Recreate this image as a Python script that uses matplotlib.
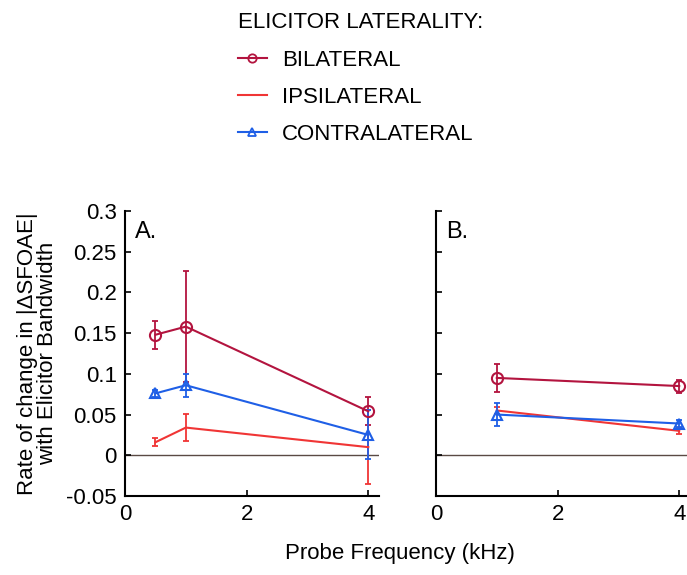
import matplotlib
matplotlib.use("Agg")
import matplotlib.pyplot as plt

plt.rcParams["font.family"] = ["Liberation Sans", "DejaVu Sans"]
plt.rcParams["font.size"] = 16

# probe frequencies (kHz) and rate-of-change values, panel A
freq_a = [0.5, 1.0, 4.0]
bilat_a = [0.148, 0.158, 0.054]
bilat_a_err = [0.017, 0.068, 0.017]
ipsi_a = [0.016, 0.034, 0.010]
ipsi_a_err = [0.005, 0.017, 0.045]
contra_a = [0.076, 0.086, 0.025]
contra_a_err = [0.004, 0.014, 0.030]

# panel B
freq_b = [1.0, 4.0]
bilat_b = [0.095, 0.085]
bilat_b_err = [0.017, 0.008]
ipsi_b = [0.055, 0.030]
ipsi_b_err = [0.004, 0.004]
contra_b = [0.050, 0.039]
contra_b_err = [0.014, 0.004]

series_names = ["BILATERAL", "IPSILATERAL", "CONTRALATERAL"]
colors = ["#b3143f", "#f03535", "#1f5fe6"]
markers = ["o", None, "^"]
msizes = [8, 0, 7]

fig = plt.figure(figsize=(6.87, 5.75), dpi=100)
ax_a = fig.add_axes([0.182, 0.1374, 0.370, 0.4957])
ax_b = fig.add_axes([0.6346, 0.1374, 0.370, 0.4957])

panel_data = [
    (ax_a, freq_a, [bilat_a, ipsi_a, contra_a], [bilat_a_err, ipsi_a_err, contra_a_err], "A."),
    (ax_b, freq_b, [bilat_b, ipsi_b, contra_b], [bilat_b_err, ipsi_b_err, contra_b_err], "B."),
]

handles = []
for ax, freq, ys, errs, tag in panel_data:
    ax.axhline(0, color="#5a4a44", lw=1.0, zorder=1)
    for i, (y, e) in enumerate(zip(ys, errs)):
        ax.errorbar(freq, y, yerr=e, fmt="none", ecolor=colors[i],
                    elinewidth=1.3, capsize=2.5, capthick=1.3, zorder=2)
        ln, = ax.plot(freq, y, color=colors[i], lw=1.5, marker=markers[i],
                      markersize=msizes[i], markerfacecolor="none",
                      markeredgewidth=1.5, zorder=3)
        if ax is ax_a:
            handles.append(ln)
    ax.set_xlim(0, 4.18)
    ax.set_ylim(-0.05, 0.3)
    ax.set_xticks([0, 2, 4])
    ax.set_yticks([-0.05, 0, 0.05, 0.1, 0.15, 0.2, 0.25, 0.3])
    for side in ["top", "right"]:
        ax.spines[side].set_visible(False)
    ax.spines["left"].set_linewidth(1.5)
    ax.spines["bottom"].set_linewidth(1.5)
    ax.tick_params(direction="in", length=4, width=1.2, labelsize=16, pad=6)
    ax.text(0.04, 0.965, tag, transform=ax.transAxes, fontsize=17,
            ha="left", va="top")

ax_a.set_yticklabels(["-0.05", "0", "0.05", "0.1", "0.15", "0.2", "0.25", "0.3"])
ax_b.set_yticklabels([])
ax_a.set_ylabel("Rate of change in |\u0394SFOAE|\nwith Elicitor Bandwidth",
                fontsize=16, labelpad=6, linespacing=0.95)

fig.text(0.582, 0.038, "Probe Frequency (kHz)", ha="center", va="center", fontsize=16)

leg_lines = []
for h in handles:
    l, = ax_a.plot([], [], color=h.get_color(), lw=1.5, marker=h.get_marker(),
                   markersize=6, markerfacecolor="none", markeredgewidth=1.3)
    leg_lines.append(l)

leg = fig.legend(leg_lines, series_names, loc="upper left",
                 bbox_to_anchor=(0.343, 0.983), frameon=False,
                 title="ELICITOR LATERALITY:", title_fontsize=16, fontsize=16,
                 handlelength=1.3, handletextpad=0.7, labelspacing=0.72,
                 alignment="left", borderaxespad=0, borderpad=0.1)
leg._legend_box.sep = 12

fig.savefig("out.png", dpi=100)
